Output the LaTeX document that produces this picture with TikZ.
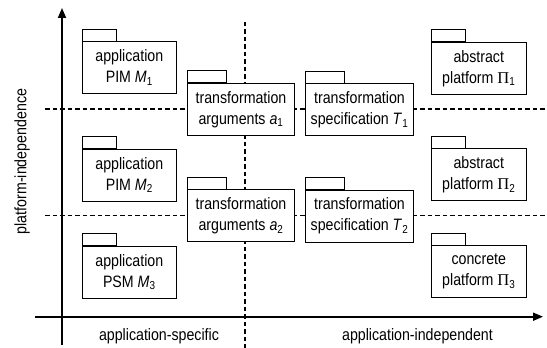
\documentclass[tikz,border=0pt]{standalone}
\usepackage{fontspec}
\setmainfont{Liberation Sans}[FakeStretch=0.86]
\newfontfamily\greekserif{Liberation Serif}
\usetikzlibrary{arrows.meta}

\tikzset{
  pkg/.style = {draw, fill = white, line width = 0.9pt, align = center,
    minimum height = 52pt, inner sep = 0pt,
    font = \fontsize{16.5}{21}\selectfont},
  pkgtab/.style = {draw, fill = white, line width = 0.9pt},
  axis/.style = {line width = 1.8pt, -{Triangle[length = 10pt, width = 8pt]}},
  grid/.style = {line width = 1.2pt, dash pattern = on 4.5pt off 3pt},
  lbl/.style = {font = \fontsize{16.5}{21}\selectfont}
}

\begin{document}
\begin{tikzpicture}[x = 1pt, y = 1pt]
      \useasboundingbox (0, 0) rectangle (547, 348);

      \draw [grid] (45, 239) -- (547, 239);
      \draw [grid] (45, 132.3) -- (547, 132.3);
      \draw [grid] (245, 326) -- (245, 0);

      \draw [axis] (35, 31.3) -- (543, 31.3);
      \draw [axis] (62, 3) -- (62, 340);

      \node [pkg, minimum width = 93.3pt] (m1) at (129.3, 280.5) {application\\PIM \textit{M}\textsubscript{1}};
      \node [pkg, minimum width = 93.3pt] (m2) at (129.3, 173) {application\\PIM \textit{M}\textsubscript{2}};
      \node [pkg, minimum width = 93.3pt] (m3) at (129.3, 76) {application\\PSM \textit{M}\textsubscript{3}};

      \node [pkg, minimum width = 106.6pt] (a1) at (241, 238.7) {transformation\\arguments \textit{a}\textsubscript{1}};
      \node [pkg, minimum width = 106.6pt] (a2) at (241, 132.2) {transformation\\arguments \textit{a}\textsubscript{2}};

      \node [pkg, minimum width = 107.6pt] (t1) at (359.5, 238.2) {transformation\\specification \textit{T}\textsubscript{1}};
      \node [pkg, minimum width = 107.6pt] (t2) at (359.5, 132) {transformation\\specification \textit{T}\textsubscript{2}};

      \node [pkg, minimum width = 94.3pt] (p1) at (478.8, 279.7) {abstract\\platform {\greekserif Π}\textsubscript{1}};
      \node [pkg, minimum width = 94.3pt] (p2) at (478.8, 173.2) {abstract\\platform {\greekserif Π}\textsubscript{2}};
      \node [pkg, minimum width = 94.3pt] (p3) at (478.8, 76.2) {concrete\\platform {\greekserif Π}\textsubscript{3}};

      \foreach \n/\w in {m1/34.3, m2/34.3, m3/34.3, a1/39, a2/39, t1/39.3, t2/39.3, p1/34.3, p2/34.3, p3/34.3}
        \draw [pkgtab] (\n.north west) rectangle ++(\w, 12);

      \node [lbl] (xspec) at (159, 11.5) {application-specific};
      \node [lbl] (xind) at (417.5, 12) {application-independent};
      \node [lbl, rotate = 90] (yind) at (22, 186.5) {platform-independence};
    \end{tikzpicture}
\end{document}
